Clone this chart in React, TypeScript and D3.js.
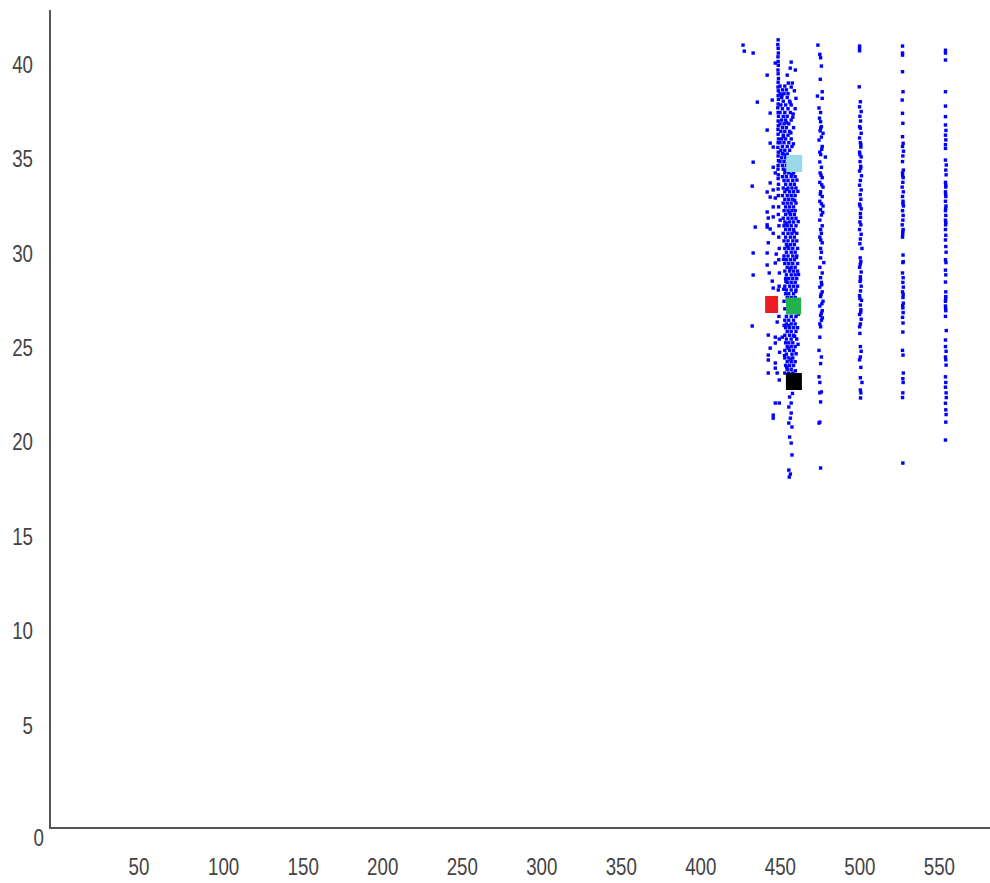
import React from "react";
import * as d3 from "d3";

const xTicks = [50, 100, 150, 200, 250, 300, 350, 400, 450, 500, 550];
const yTicks = [5, 10, 15, 20, 25, 30, 35, 40];
const originLabel = "0";
const xDomain = [0, 591];
const yDomain = [0, 43.33];

// left-most thin vertical line of the main column
const mainLine: [number, number][] = [
  [457.8,41.75],[457.6,41.5],[457.8,41.3],[457.9,41.05],[457.7,40.85],[457.8,40.6],[457.9,40.4],[457.7,40.15],[457.8,39.95],[458,39.7],[457.8,39.5],[457.7,39.25],[457.9,39.05],[457.8,38.8],[458,38.6],[457.8,38.35],[457.6,38.15],[457.8,37.9],[458,37.7],[457.8,37.45],[457.9,37.2],[457.7,37.0],[457.8,36.75],[458,36.5],[457.8,36.3],[457.6,36.05],[457.9,35.8],[457.8,35.6],[458,35.35],[457.8,35.1],[457.7,34.9],[457.9,34.6],[457.8,34.4],[458,34.1],[457.8,33.85],[457.9,33.5],[458.1,32.9],[457.9,32.5],[458.3,31.9],[458.2,31.3],[458.5,30.7],[458.2,30.1],[458.6,29.4],[458.4,28.7],[458.3,27.1],[458.5,25.9],[458.7,25.2]
];

// dense body of the main column
const mainCluster: [number, number][] = [
  [459,39.3],[462,39.3],[466,39.25],[460.5,39.1],[463,39.1],[468,39.05],[459,38.9],[461.5,38.9],[464,38.9],[460,38.7],[463.5,38.7],[469,38.65],
  [461,38.5],[465,38.5],[459.5,38.3],[462.5,38.3],[466,38.3],[460.5,38.1],[464,38.1],[468.5,38.1],[459,37.9],[462,37.9],[465.5,37.9],
  [461,37.7],[463.5,37.7],[467,37.65],[460,37.5],[462.5,37.5],[466,37.5],[459,37.3],[461.5,37.3],[464.5,37.3],[460.5,37.1],[463,37.1],[467.5,37.1],
  [459.5,36.9],[462,36.9],[465,36.9],[461,36.7],[464,36.7],[460,36.5],[462.5,36.5],[466,36.5],[459,36.3],[461.5,36.3],[464.5,36.3],
  [460.5,36.1],[463.5,36.1],[466.5,36.1],[459.5,35.9],[462,35.9],[465,35.9],[461,35.7],[463.5,35.7],[460,35.5],[462.5,35.5],[459,35.3],[461.5,35.3],
  [460.5,35.1],[463,35.1],[461,34.9],[463.5,34.9],[466,34.9],[469,34.9],[462,34.7],[464.5,34.7],[467.5,34.7],[460.5,34.5],[463,34.5],[466,34.5],[468.5,34.5],
  [461.5,34.3],[464,34.3],[467,34.3],[462.5,34.1],[465.5,34.1],[468,34.1],[461,33.9],[464,33.9],[466.5,33.9],[469,33.9],[462,33.7],[465,33.7],[467.5,33.7],
  [460.5,33.5],[463.5,33.5],[466,33.5],[468.5,33.5],[462,33.3],[464.5,33.3],[467,33.3],[461,33.1],[463.5,33.1],[466,33.1],[469,33.1],
  [462.5,32.9],[465,32.9],[467.5,32.9],[461.5,32.7],[464,32.7],[466.5,32.7],[468.5,32.7],[462.5,32.5],[465.5,32.5],[468,32.5],
  [461,32.3],[464,32.3],[466.5,32.3],[469,32.3],[462,32.1],[465,32.1],[467.5,32.1],[461.5,31.9],[463.5,31.9],[466,31.9],[469,31.9],
  [462.5,31.7],[465,31.7],[467.5,31.7],[461,31.5],[464,31.5],[466.5,31.5],[469.5,31.5],[462.5,31.3],[465.5,31.3],[468,31.3],
  [461.5,31.1],[464,31.1],[467,31.1],[469.5,31.1],[463,30.9],[465.5,30.9],[468,30.9],[462,30.7],[464.5,30.7],[467,30.7],[470,30.7],
  [463,30.5],[466,30.5],[468.5,30.5],[461.5,30.3],[464,30.3],[467,30.3],[469.5,30.3],[463,30.1],[465.5,30.1],[468,30.1],
  [462,29.9],[464.5,29.9],[467,29.9],[470,29.9],[463.5,29.7],[466,29.7],[468.5,29.7],[462,29.5],[465,29.5],[467.5,29.5],[470,29.5],
  [463,29.3],[466,29.3],[468.5,29.3],[462.5,29.1],[464.5,29.1],[467,29.1],[469.5,29.1],[463.5,28.9],[466,28.9],[468.5,28.9],
  [462,28.7],[465,28.7],[467.5,28.7],[470,28.7],[463,28.5],[466,28.5],[469,28.5],[462.5,28.3],[464.5,28.3],[467.5,28.3],
  [463.5,28.1],[466,28.1],[468.5,28.1],[461.5,27.9],[462,27.5],[463,27.1],[466,27.1],[469,27.1],
  [462,26.9],[464.5,26.9],[467.5,26.9],[463,26.7],[466,26.7],[468.5,26.7],[462.5,26.5],[465,26.5],[467.5,26.5],[470,26.5],
  [463.5,26.3],[466,26.3],[469,26.3],[462,26.1],[465,26.1],[467.5,26.1],[463,25.9],[466,25.9],[469.5,25.9],
  [462.5,25.7],[464.5,25.7],[467,25.7],[463.5,25.5],[466,25.5],[468.5,25.5],[462,25.3],[465,25.3],[467.5,25.3],
  [463,25.1],[466.5,25.1],[462,24.9],[464.5,24.9],[467,24.9],[463.5,24.7],[466,24.7],[468.5,24.7],[462.5,24.5],[465,24.5],[467.5,24.5],
  [463.5,24.3],[466,24.3],[462,24.1],[464.5,24.1],[467,24.1],[465,23.9],[467.5,23.9],
  [460.2,38.82],[465.3,38.42],[467.2,37.82],[463.1,37.36],[465.8,36.82],[467.4,36.24],[462.8,35.64],[464.1,35.22],[466.3,34.62],[469.6,34.32],
  [463.2,33.82],[468.2,33.24],[464.8,32.58],[462.9,32.04],[467.8,31.58],[463.8,30.82],[469.2,30.22],[465.2,29.62],[462.7,28.96],[468.8,28.42],
  [464.2,26.62],[468.2,26.04],[464.1,25.42],[469.1,25.12],[465.8,24.82],[463.2,24.42],[468.6,24.22],[461.2,36.62],[460.4,35.72],[462.3,34.82],
  [470.2,33.72],[470.4,32.12],[461.2,30.12],[470.6,29.32],[461.3,28.54],[470.5,27.22],[461.6,26.62],[470.3,25.62],[461.8,25.02]
];

// lower tail of the main column
const mainTail: [number, number][] = [
  [466.8,23.02],[465,22.83],[466,22.51],[464.5,22.3],[466,21.98],[465.5,21.71],[464.5,21.45],[466.5,21.24],[465,20.71],[466,20.39],[466.5,19.76],[464.5,18.96],[465.5,18.75],[464.8,18.59]
];

// scattered points left of the main column
const strays: [number, number][] = [
  [435.7,41.47],[436.5,41.15],[442.1,41.05],[456.0,40.52],[466.0,40.57],[450.9,39.88],[465.4,40.25],[468.6,40.15],[463.5,39.88],[464.2,39.46],[466.7,39.46],
  [444.7,38.45],[454.1,38.56],[452.8,37.87],[450.9,36.97],[452.8,36.28],[454.7,36.07],[442.1,35.27],[454.7,35.0],[456.0,34.7],[441.5,34.0],[452.8,34.17],
  [450.9,33.69],[454.7,33.8],[452.8,33.42],[456.0,33.37],[450.9,32.63],[454.7,32.9],[451.6,32.31],[454.7,32.37],[459.1,32.2],[443.4,31.83],[450.9,31.83],
  [452.8,31.73],[450.9,31.95],[454.7,31.5],[451.6,31.0],[442.1,30.46],[450.9,30.46],[456.6,30.4],[450.9,29.82],[456.0,29.93],[442.1,29.29],[452.2,29.4],
  [454.1,28.97],[454.7,28.6],[457.9,28.5],[441.5,26.59],[457.2,26.8],[451.6,26.11],[456.0,26.0],[460.4,26.0],[456.0,25.69],[452.8,25.42],
  [451.6,25.05],[451.6,24.79],[456.0,24.63],[456.0,24.36],[451.6,24.1],[457.2,24.1],[458.5,23.73],[456.0,22.51],[458.5,22.51],[454.7,21.87],[454.7,21.71]
];

const col484: [number, number][] = [
  [482.8,41.47],[484,40.98],[484.5,40.8],[485,40.36],[484.3,39.66],[485.5,39.0],[482.5,38.77],[485.5,38.65],[483.5,38.14],[484.5,37.9],[483.8,37.6],[484.5,37.41],
  [485,37.15],[484.5,37.07],[484.2,36.93],[486,36.8],[485,36.6],[483.5,36.44],[485.5,36.1],[485.2,35.95],[484,35.8],[484.6,35.67],[487.5,35.54],[484,35.28],[485,35.0],
  [484.2,34.7],[484.8,34.58],[485.5,34.45],[484,34.2],[485.2,34.07],[486,33.95],[484.5,33.7],[484.3,33.57],[485.5,33.45],[484,33.2],[485,33.07],[486,32.95],[484.5,32.75],
  [485.8,32.6],[485,32.47],[484,32.2],[485.5,31.9],[484.5,31.7],[485,31.5],[484,31.3],[484.6,31.15],[485.5,31.0],[484.5,30.7],[485,30.5],[484.5,30.2],[486.5,29.95],
  [484,29.7],[485.5,29.4],[484.5,29.15],[485,28.9],[485.2,28.78],[484,28.65],[485.5,28.4],[484.8,28.27],[484.5,28.15],[486,27.9],[485.3,27.77],[484,27.65],
  [485.5,27.4],[485,27.27],[484.5,27.15],[485.6,27.02],[485,26.9],[484,26.7],[484.5,26.55],[484,26.0],[483.5,25.3],[485,24.95],[484.5,24.6],[483.5,23.9],[484,23.6],
  [485,23.1],[484,23.05],[484.5,22.57],[484,21.5],[483.5,21.45],[484.5,19.07]
];

const col509: [number, number][] = [
  [509,41.42],[509,41.3],[509,41.17],[508.8,39.26],[509.5,38.47],[509,38.2],[510,37.95],[509.2,37.7],[509.6,37.45],[509,37.15],[509.5,37.07],[510,36.8],[509,36.55],
  [509.5,36.3],[509.8,36.2],[509.8,36.07],[509,35.8],[509.2,35.67],[510,35.55],[509.3,35.3],[509.7,35.05],[509.7,34.95],[509,34.8],[510.2,34.55],[509.5,34.3],[509,34.05],
  [510,33.8],[509.4,33.55],[509.8,33.3],[509,33.05],[509.3,32.95],[510,32.8],[509.5,32.55],[509.6,32.35],[509.2,32.1],[509.8,31.95],[509,31.7],[510,31.45],[509.5,31.2],
  [509.2,30.95],[510.5,30.7],[509.4,30.2],[509.8,30.0],[509.4,29.85],[509,29.7],[510,29.45],[509.5,29.2],[509.6,29.05],[509.3,28.95],[510,28.7],[509.6,28.45],[509,28.2],
  [509.2,28.05],[510.2,27.95],[509.5,27.7],[509.8,27.45],[509.7,27.32],[509,27.2],[510,26.95],[509.5,26.7],[509,26.55],[509.2,26.2],[509.5,25.5],[510,25.25],[509.5,24.95],
  [509,24.8],[509.8,24.4],[509.5,23.85],[510.5,23.6],[509.5,23.2],[509.8,23.05],[509.6,22.78]
];

const col536: [number, number][] = [
  [536,41.42],[536,41.05],[536,40.94],[536,40.06],[536.3,39.0],[535.8,38.56],[536,37.86],[536.2,37.33],[536,36.62],[536.4,36.27],[536,36.1],[536.6,35.85],[536.2,35.6],
  [536,35.3],[536.5,34.85],[536,34.7],[536.1,34.57],[536.4,34.45],[536.2,34.2],[535.8,33.95],[536.5,33.7],[536,33.45],[536.3,33.2],[536.3,33.07],[536.6,32.95],[536,32.7],
  [536.4,32.45],[536.2,32.2],[535.8,31.95],[536.4,31.7],[536.2,31.6],[536.1,31.45],[536,31.3],[536.3,30.35],[536.5,30.0],[536.2,29.95],[536,29.4],[536.4,29.15],[536.2,28.9],
  [536.5,28.65],[536,28.4],[536.4,28.27],[536.3,28.1],[536.5,27.8],[536.1,27.67],[536.2,27.55],[536.4,27.3],[536,27.05],[536.3,26.75],[536.2,26.27],[536,25.3],[536.3,25.05],
  [536.5,24.1],[536.2,23.8],[536.4,23.6],[536.2,23.05],[536,22.8],[536.2,19.33]
];

const col563: [number, number][] = [
  [563,41.2],[563,41.05],[563,40.68],[563,39.0],[563,38.24],[563,37.68],[563,37.24],[563.3,36.95],[563,36.7],[563.2,36.45],[563,36.2],[563,36.0],[563,35.38],[563.5,35.12],
  [563.2,34.85],[563.4,34.6],[563,34.2],[563.2,34.05],[563.2,33.95],[563,33.7],[563.1,33.57],[563.2,33.45],[563,33.2],[563.3,32.95],[563.1,32.82],[563,32.7],[563.2,32.45],
  [563,32.2],[563.2,32.07],[563.1,31.95],[563,31.7],[563.2,31.4],[563,31.15],[563.2,30.8],[563.4,30.5],[563,30.1],[563.3,29.95],[563,29.55],[563.2,29.3],[563,28.92],
  [563.2,28.4],[563.2,28.15],[563.1,28.02],[563,27.9],[563,27.65],[563.1,27.52],[563.2,27.4],[563,27.1],[563.5,26.35],[563,25.85],[563,25.5],[563.4,25.25],[563,24.95],
  [563.2,24.8],[563.4,24.52],[563,23.9],[563.2,23.6],[563,23.35],[563.4,23.05],[563.5,22.8],[563,22.5],[563.2,22.15],[563.4,21.9],[563.2,21.5],[563,20.55]
];

const markerNames = ["lightblue", "red", "green", "black"];
const markerX = [467.9, 453.7, 467.5, 467.7];
const markerY = [35.2, 27.73, 27.65, 23.65];

const markerStyle: Record<string, { fill: string; w: number; h: number }> = {
  lightblue: { fill: "#99d9ea", w: 16, h: 17 },
  red: { fill: "#ed1c24", w: 13, h: 17 },
  green: { fill: "#22b14c", w: 15, h: 17 },
  black: { fill: "#000000", w: 16, h: 17 },
};

const W = 990;
const H = 883;

function Label({ x, y, anchor, text }: { x: number; y: number; anchor: string; text: string }) {
  return (
    <text transform={`translate(${x},${y}) scale(0.78,1)`} textAnchor={anchor}>
      {text}
    </text>
  );
}

export default function App() {
  const x = d3.scaleLinear().domain(xDomain).range([50, 990]);
  const y = d3.scaleLinear().domain(yDomain).range([828, 10]);
  const allPoints = [...strays, ...mainLine, ...mainCluster, ...mainTail, ...col484, ...col509, ...col536, ...col563];
  const font = "'Liberation Sans', Arial, sans-serif";
  const dot = 3.4;
  return (
    <svg width={W} height={H} style={{ position: "absolute", left: 0, top: 0, background: "#fff" }}>
      <rect x={0} y={0} width={W} height={H} fill="#fff" />
      <g>
        {allPoints.map((p, i) => (
          <rect key={i} x={x(p[0]) - dot / 2} y={y(p[1]) - dot / 2} width={dot} height={dot} fill="#0000ff" />
        ))}
      </g>
      <g>
        {markerNames.map((n, i) => {
          const s = markerStyle[n];
          return <rect key={n} x={x(markerX[i]) - s.w / 2} y={y(markerY[i]) - s.h / 2} width={s.w} height={s.h} fill={s.fill} />;
        })}
      </g>
      <line x1={x(0)} x2={x(0)} y1={y(yDomain[1])} y2={y(0) + 1} stroke="#555" strokeWidth={2} />
      <line x1={x(0)} x2={W} y1={y(0)} y2={y(0)} stroke="#555" strokeWidth={2} />
      <g fontFamily={font} fontSize={24} fill="#444">
        {yTicks.map((t) => (
          <Label key={t} x={33} y={y(t)} anchor="end" text={String(t)} />
        ))}
        {xTicks.map((t) => (
          <Label key={t} x={x(t) - 1} y={875} anchor="start" text={String(t)} />
        ))}
        <Label x={44} y={846} anchor="end" text={originLabel} />
      </g>
    </svg>
  );
}
